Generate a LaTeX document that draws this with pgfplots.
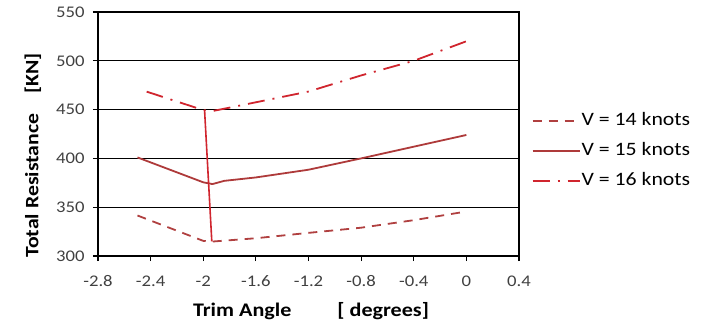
\documentclass[border=0pt]{standalone}
\usepackage{fontspec}
\setmainfont{Carlito}[FakeStretch=1.15]
\usepackage{pgfplots}
\pgfplotsset{compat=1.18}
\definecolor{c14}{HTML}{B04040}
\definecolor{c15}{HTML}{AE3A3A}
\definecolor{c16}{HTML}{D0252E}
\definecolor{tickc}{HTML}{404040}
\begin{document}
\begin{tikzpicture}
\begin{axis}[
  scale only axis, width=421bp, height=244bp,
  xmin=-2.8, xmax=0.4, ymin=300, ymax=550,
  xtick={-2.8,-2.4,-2,-1.6,-1.2,-0.8,-0.4,0,0.4},
  ytick={300,350,400,450,500,550},
  ymajorgrids, grid style={black, line width=0.7bp},
  axis line style={black, line width=1.3bp},
  tick align=outside, xtick pos=left, ytick pos=left,
  major tick length=5bp, tick style={black, line width=1.2bp},
  ticklabel style={font=\fontsize{16.3}{18}\selectfont, text=tickc},
  xticklabel style={yshift=-11bp},
  yticklabel style={xshift=-5bp},
  /pgf/number format/fixed, /pgf/number format/precision=1,
  /pgf/number format/assume math mode=true,
  xlabel={Trim Angle\hspace{46bp}[ degrees]},
  xlabel style={font=\fontsize{19.3}{21}\selectfont\bfseries, at={(axis description cs:0.506,0)}, anchor=base, yshift=-60bp},
  ylabel={Total Resistance\hspace{20bp}[KN]},
  ylabel style={font=\fontsize{19}{21}\selectfont\bfseries, at={(axis description cs:-0.155,0.412)}, anchor=center},
  legend style={at={(1.03,0.59)}, anchor=north west, draw=none, fill=none,
    font=\fontsize{19}{21}\selectfont, row sep=13bp, inner sep=0pt,
    nodes={inner sep=1bp, text height=12bp, text depth=3bp}},
  legend cell align=left,
  legend image code/.code={\draw[#1] (0bp,0bp) -- (47bp,0bp);},
  clip=false,
]
\addplot[c14, line width=1.8bp, dash pattern=on 9bp off 7bp] coordinates {
(-2.5,341.5) (-2.0,315.5) (-1.93,314.8) (-1.6,318.2) (-1.2,323.7) (-0.8,329) (-0.4,336.7) (0,345.6)};
\addlegendentry{V = 14 knots}
\addplot[c15, line width=1.8bp] coordinates {
(-2.5,401) (-2.0,375.5) (-1.93,373.7) (-1.84,377) (-1.6,380.5) (-1.2,388.4) (-0.8,400) (-0.4,412) (0,424)};
\addlegendentry{V = 15 knots}
\addplot[c16, line width=1.8bp, dash pattern=on 17bp off 8bp on 2bp off 8bp] coordinates {
(-2.43,468.4) (-2.0,449.5) (-1.93,448.5) (-1.8,452) (-1.6,457.5) (-1.2,468.5) (-0.8,485) (-0.4,500) (0,520)};
\addlegendentry{V = 16 knots}
\addplot[c16, line width=1.6bp, forget plot] coordinates {(-1.99,449.5) (-1.935,315)};
\coordinate (bl) at (rel axis cs:0,0);
\coordinate (tr) at (rel axis cs:1,1);
\end{axis}
\pgfresetboundingbox
\path[use as bounding box] ([xshift=-98bp,yshift=-68bp]bl) rectangle ([xshift=184bp,yshift=12bp]tr);
\end{tikzpicture}
\end{document}
